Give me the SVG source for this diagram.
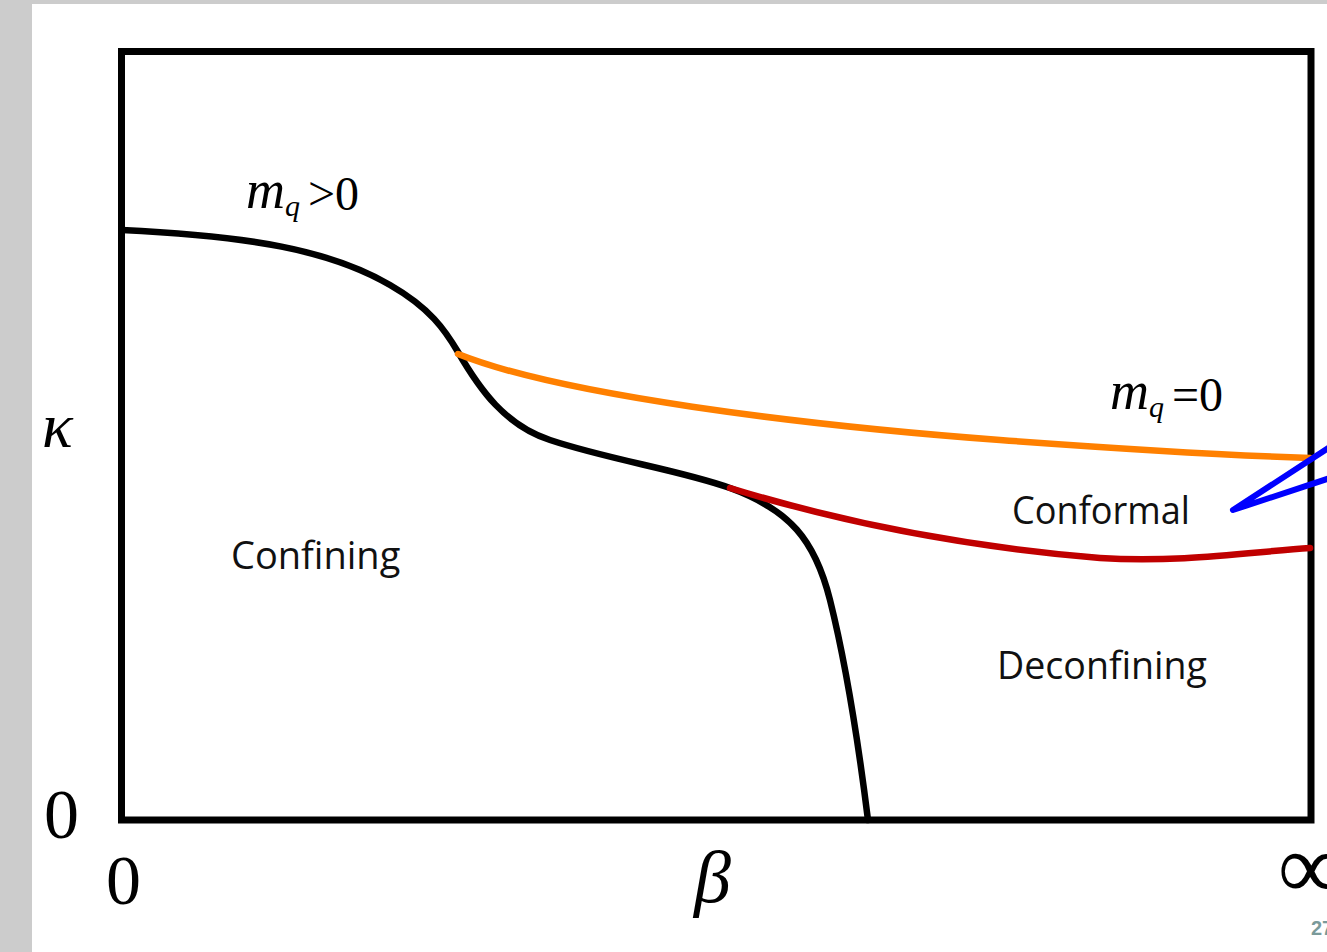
<svg xmlns="http://www.w3.org/2000/svg" width="1327" height="952" viewBox="0 0 1327 952">
<style>
.lbl{font-family:"Open Sans","DejaVu Sans",sans-serif;font-size:38px;fill:#111}
.math{font-family:"Liberation Serif","DejaVu Serif",serif;fill:#000}
.curve{fill:none;stroke-width:6.5;stroke-linecap:round}
</style>
<rect x="0" y="0" width="1327" height="952" fill="#cccccc"/>
<rect x="32" y="4" width="1295" height="948" fill="#ffffff"/>
<g id="frame"><rect x="121.5" y="51.5" width="1189.5" height="768.5" fill="none" stroke="#000" stroke-width="7"/></g>
<g id="connectors">
<path class="curve" stroke="#000" d="M122,230 C250,236 330,250 390,285 C430,308 445,330 458,352 C480,390 505,425 550,440 C610,460 680,470 730,488 C790,510 815,540 830,600 C845,660 858,740 868,820"/>
<path class="curve" stroke="#ff8000" d="M458,354 C560,395 800,425 1000,440 C1150,451 1250,456 1310,458"/>
<path class="curve" stroke="#c00000" d="M730,488 C850,525 980,548 1100,558 C1180,563 1250,552 1310,548"/>
<path fill="none" stroke="#0000ff" stroke-width="6" stroke-linecap="round" stroke-linejoin="round" d="M1330,447 L1233,510 L1330,478"/>
</g>
<g id="labels">
<text class="math" x="246" y="208" font-size="54" font-style="italic">m<tspan font-size="30" dy="8">q</tspan></text>
<text class="math" x="308" y="210" font-size="48">&gt;0</text>
<text class="math" x="1110" y="409" font-size="54" font-style="italic">m<tspan font-size="30" dy="8">q</tspan></text>
<text class="math" x="1172" y="411" font-size="48">=0</text>
<text class="math" x="42" y="447" font-size="64" font-style="italic">κ</text>
<text class="math" x="44" y="838" font-size="70">0</text>
<text class="math" x="106" y="904" font-size="70">0</text>
<text class="math" x="694" y="902" font-size="74" font-style="italic">β</text>
<text class="math" x="1278" y="898" font-size="92">∞</text>
<text x="1311" y="935" font-family="Liberation Sans,sans-serif" font-size="20" font-weight="bold" fill="#7a9a9a">27</text>
<text class="lbl" x="231" y="569">Confining</text>
<text class="lbl" x="1012" y="524" textLength="178" lengthAdjust="spacingAndGlyphs">Conformal</text>
<text class="lbl" x="997" y="679" textLength="210" lengthAdjust="spacingAndGlyphs">Deconfining</text>
</g>
</svg>
